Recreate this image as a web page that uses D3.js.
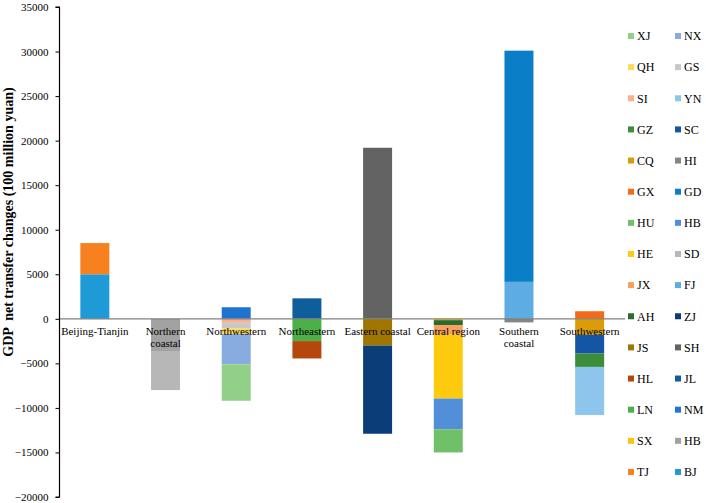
<!DOCTYPE html>
<html>
<head>
<meta charset="utf-8">
<script src="https://cdn.jsdelivr.net/npm/d3@7"></script>
<style>
  html, body { margin: 0; padding: 0; background: #fff; }
  svg { display: block; font-family: "Liberation Serif", "Times New Roman", serif; }
</style>
</head>
<body>
<svg id="chart" width="706" height="503"></svg>
<script>
// ---- data ----
const regions = ["Beijing-Tianjin", "Northern coastal", "Northwestern", "Northeastern",
                 "Eastern coastal", "Central region", "Southern coastal", "Southwestern"];
const provinces = ["BJ","TJ","HB","SX","NM","LN","JL","HL","SH","JS","ZJ","AH","FJ","JX","SD",
                   "HE","HB","HU","GD","GX","HI","CQ","SC","GZ","YN","SI","GS","QH","NX","XJ"];
// index of region each province belongs to
const provinceRegion = [0,0,1,5,2,3,3,3,4,4,4,5,6,5,1,5,5,5,6,7,6,7,7,7,7,2,2,2,2,2];
// GDP net transfer changes (100 million yuan)
const transferValues = [5000,3500,-3700,-150,1300,-2500,2300,-1950,19200,-3000,-9900,-550,4150,-1050,-4300,
                        -7200,-3450,-2600,25950,850,-400,-1800,-2100,-1500,-5400,-450,-650,-600,-3400,-4100];
const provinceColors = ["#1e9bd7","#f7801f","#a2a2a2","#ffc20e","#1f74d0","#4caf48","#0f5e9c","#b5470c",
                        "#636363","#a07500","#0b3d77","#2e6b2b","#5eade2","#f8a060","#b7b7b7",
                        "#fdca0d","#528fd8","#70c06a","#0a7ec6","#f26a1a","#858585","#d99d0a",
                        "#1456a5","#3c8c3a","#8ec5ec","#fcb08a","#c8c8c8","#ffda57","#88abe0","#92d08a"];
const yTicks = d3.range(-20000, 35001, 5000);
const yTitle = "GDP  net transfer changes (100 million yuan)";

// ---- build table ----
const keys = provinces.map((p, i) => "s" + i);
const table = regions.map((r, ri) => {
  const row = { region: r };
  keys.forEach((k, i) => { row[k] = provinceRegion[i] === ri ? transferValues[i] : 0; });
  return row;
});
const series = d3.stack().keys(keys).order(d3.stackOrderNone).offset(d3.stackOffsetDiverging)(table);

// ---- scales ----
const svg = d3.select("#chart");
const x0 = 59.5, x1 = 625;
const x = d3.scaleBand().domain(regions).range([x0, x1]).paddingInner(0.59).paddingOuter(0.295);
const y = d3.scaleLinear().domain([-20000, 35000]).range([497, 7]);

// ---- bars ----
const g = svg.append("g");
series.forEach((s, i) => {
  g.append("g").attr("fill", provinceColors[i])
    .selectAll("rect")
    .data(s.filter(d => d[1] !== d[0]))
    .join("rect")
    .attr("x", d => x(d.data.region))
    .attr("width", x.bandwidth())
    .attr("y", d => y(Math.max(d[0], d[1])))
    .attr("height", d => Math.abs(y(d[0]) - y(d[1])));
});

// ---- zero line ----
svg.append("line")
  .attr("x1", x0).attr("x2", x1)
  .attr("y1", y(0)).attr("y2", y(0))
  .attr("stroke", "#808080").attr("stroke-width", 1.3);

// ---- y axis ----
const yAxis = d3.axisLeft(y).tickValues(yTicks).tickSize(4).tickPadding(7).tickFormat(d3.format("d"));
const ya = svg.append("g").attr("transform", `translate(${x0},0)`).call(yAxis);
ya.select(".domain").attr("stroke", "#000").attr("stroke-width", 1.2).attr("d", `M-4,${y(35000)}H0V${y(-20000)}H-4`);
ya.selectAll(".tick line").attr("stroke", "#000");
ya.selectAll(".tick text").attr("font-size", 11).attr("font-family", "Liberation Serif").attr("fill", "#000");

// ---- category labels ----
const step = x.step();
regions.forEach(r => {
  const cx = x(r) + x.bandwidth() / 2;
  const t = svg.append("text")
    .attr("x", cx).attr("y", y(0) + 16)
    .attr("text-anchor", "middle")
    .attr("font-size", 11).attr("fill", "#000").text(r);
  if (t.node().getComputedTextLength() > step - 2) {
    const words = r.split(" ");
    t.text(null);
    words.forEach((w, i) => {
      t.append("tspan").attr("x", cx).attr("dy", i === 0 ? 0 : 12.5).text(w);
    });
  }
});

// ---- y title ----
svg.append("text")
  .attr("transform", `translate(13,222) rotate(-90)`)
  .attr("text-anchor", "middle")
  .attr("font-size", 14).attr("font-weight", "bold")
  .style("white-space", "pre")
  .attr("fill", "#000")
  .text(yTitle);

// ---- legend ----
const legendOrder = d3.range(provinces.length).reverse();
const lg = svg.append("g");
legendOrder.forEach((si, j) => {
  const col = j % 2, row = Math.floor(j / 2);
  const mx = col === 0 ? 631 : 678;
  const my = 36 + row * 31.14;
  lg.append("rect").attr("x", mx - 3).attr("y", my - 3).attr("width", 6).attr("height", 6)
    .attr("fill", provinceColors[si]);
  lg.append("text").attr("x", mx + 6).attr("y", my + 4.3)
    .attr("font-size", 12).attr("fill", "#000").text(provinces[si]);
});
</script>
</body>
</html>
